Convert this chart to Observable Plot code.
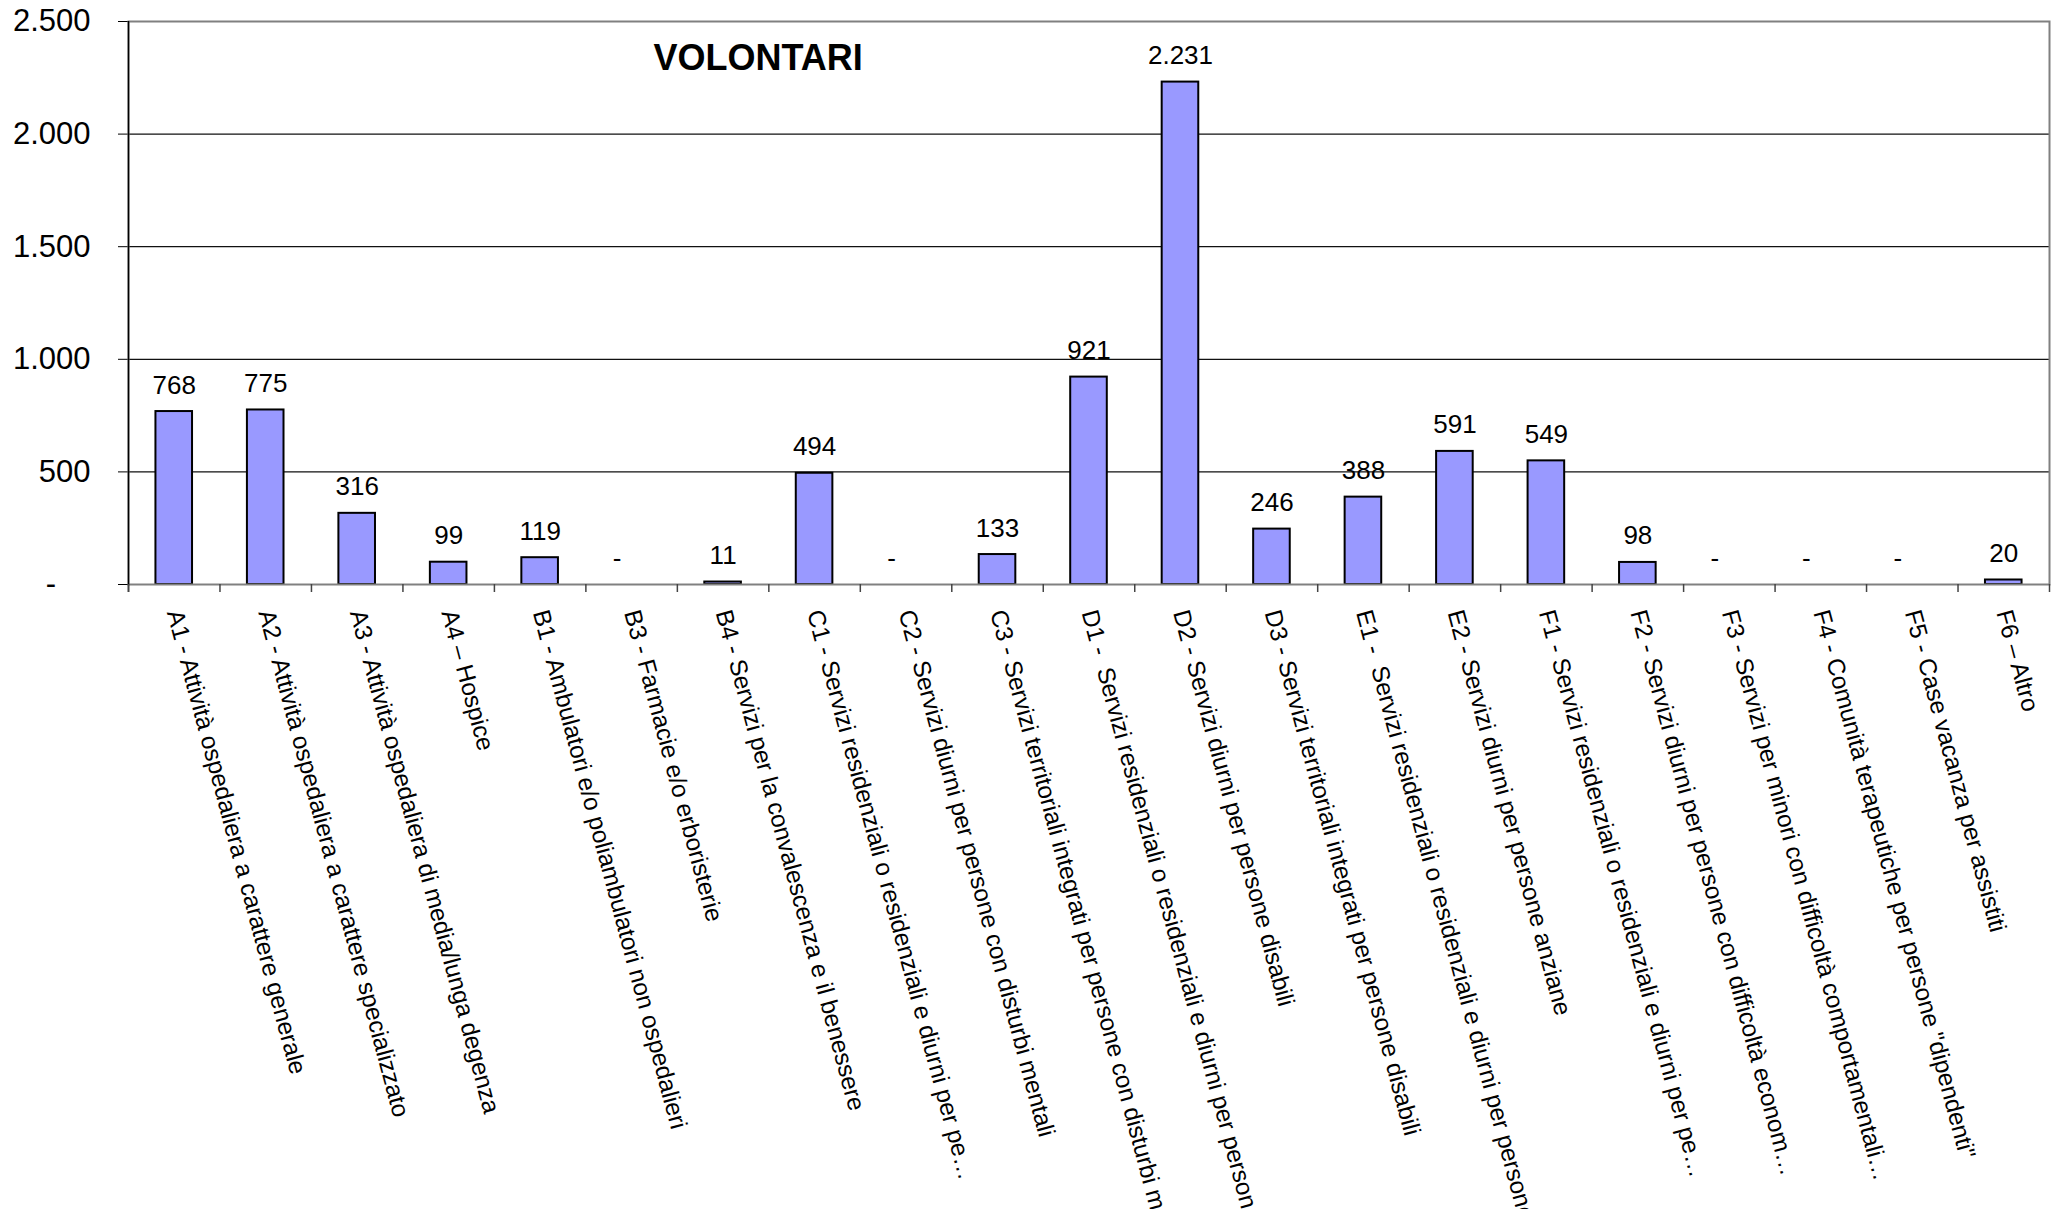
<!DOCTYPE html>
<html>
<head>
<meta charset="utf-8">
<script src="https://cdn.jsdelivr.net/npm/d3@7"></script>
<script src="https://cdn.jsdelivr.net/npm/@observablehq/plot@0.6"></script>
<style>
  html, body { margin: 0; padding: 0; background: #fff; overflow: hidden; }
  #chart svg { display: block; }
</style>
</head>
<body>
<div id="chart"></div>
<script>
// ---- Data ----
const title = "VOLONTARI";
const codes = ["A1","A2","A3","A4","B1","B3","B4","C1","C2","C3","D1","D2","D3","E1","E2","F1","F2","F3","F4","F5","F6"];
const categoryLabels = [
  "A1 - Attività ospedaliera a carattere generale",
  "A2 - Attività ospedaliera a carattere specializzato",
  "A3 - Attività ospedaliera di media/lunga degenza",
  "A4 – Hospice",
  "B1 - Ambulatori e/o poliambulatori non ospedalieri",
  "B3 - Farmacie e/o erboristerie",
  "B4 - Servizi per la convalescenza e il benessere",
  "C1 - Servizi residenziali o residenziali e diurni per pe…",
  "C2 - Servizi diurni per persone con disturbi mentali",
  "C3 - Servizi territoriali integrati per persone con disturbi mentali",
  "D1 -  Servizi residenziali o residenziali e diurni per persone disabili",
  "D2 - Servizi diurni per persone disabili",
  "D3 - Servizi territoriali integrati per persone disabili",
  "E1 -  Servizi residenziali o residenziali e diurni per persone anziane",
  "E2 - Servizi diurni per persone anziane",
  "F1 - Servizi residenziali o residenziali e diurni per pe…",
  "F2 - Servizi diurni per persone con difficoltà econom…",
  "F3 - Servizi per minori con difficoltà comportamentali…",
  "F4 - Comunità terapeutiche per persone \"dipendenti\"",
  "F5 - Case vacanza per assistiti",
  "F6 – Altro"
];
const values = [768, 775, 316, 99, 119, 0, 11, 494, 0, 133, 921, 2231, 246, 388, 591, 549, 98, 0, 0, 0, 20];
const yTicks = [0, 500, 1000, 1500, 2000, 2500];

// ---- Build table ----
const data = codes.map((c, i) => ({code: c, label: categoryLabels[i], value: values[i]}));

// Italian number format, "-" for zero (accounting style)
const itFmt = v => v === 0 ? "-\u2007\u2007" : d3.format(",")(v).replace(/,/g, ".");

// ---- Layout ----
const W = 2060, H = 1209;
const mL = 128, mR = 11, mT = 21, mB = 625;
const frameH = H - mT - mB;
const step = (W - mL - mR) / codes.length;

const font = "'Liberation Sans', Arial, Helvetica, sans-serif";

const chart = Plot.plot({
  width: W,
  height: H,
  marginLeft: mL,
  marginRight: mR,
  marginTop: mT,
  marginBottom: mB,
  style: {fontFamily: font, fontSize: "31px", background: "#fff", overflow: "hidden", color: "#000"},
  x: {type: "band", domain: codes, paddingInner: 0.6, paddingOuter: 0.3, round: false, axis: null},
  y: {domain: [0, 2500], ticks: yTicks, tickSize: 10, tickPadding: 28, tickFormat: itFmt, label: null},
  marks: [
    // horizontal gridlines
    Plot.ruleY(yTicks.filter(t => t > 0 && t < 2500), {stroke: "#111", strokeWidth: 1.2}),
    // bars
    Plot.barY(data.filter(d => d.value > 0), {x: "code", y: "value", fill: "#9999FF", stroke: "#000", strokeWidth: 2}),
    // plot area border
    Plot.frame({stroke: "#808080", strokeWidth: 2}),
    // left value axis line
    Plot.ruleX([codes[0]], {x: d => d, dx: -step / 2, stroke: "#000", strokeWidth: 1.5, insetBottom: -8}),
    // category tick marks (between categories)
    Plot.ruleX(codes, {x: d => d, dx: -step / 2, stroke: "#444", strokeWidth: 1.5, insetTop: frameH, insetBottom: -8}),
    Plot.ruleX([codes[codes.length - 1]], {x: d => d, dx: step / 2, stroke: "#444", strokeWidth: 1.5, insetTop: frameH, insetBottom: -8}),
    // value labels
    Plot.text(data, {x: "code", y: "value", text: d => itFmt(d.value), dy: -18, lineAnchor: "bottom", fontSize: 26, fill: "#000"}),
    // rotated category labels
    Plot.text(data, {x: "code", text: "label", frameAnchor: "bottom", rotate: 75, textAnchor: "start", lineAnchor: "middle", dy: 26, fontSize: 24.3, fill: "#000"}),
    // title
    Plot.text([title], {frameAnchor: "top-left", text: d => d, dx: 525, dy: 48, lineAnchor: "bottom", textAnchor: "start", fontSize: 36, fontWeight: "bold", fill: "#000"})
  ]
});

document.getElementById("chart").appendChild(chart);
</script>
</body>
</html>
